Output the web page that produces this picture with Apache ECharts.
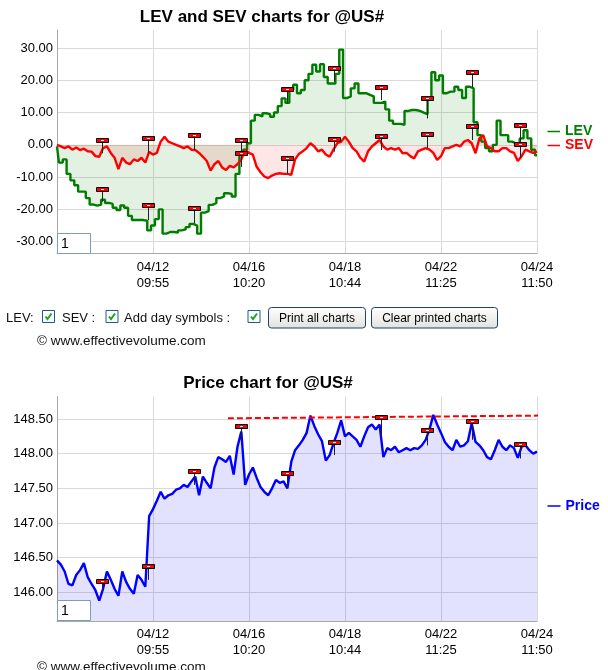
<!DOCTYPE html>
<html><head><meta charset="utf-8">
<script src="https://cdn.jsdelivr.net/npm/echarts@6/dist/echarts.min.js"></script>
<style>html,body{margin:0;padding:0;background:#fff}#c{width:608px;height:670px}</style>
</head><body><div id="c"></div>
<script>
// ---------- data ----------
const xTickBars = [100, 200, 300, 400, 500];
const xTickLabels = ['04/12\n09:55', '04/16\n10:20', '04/18\n10:44', '04/22\n11:25', '04/24\n11:50'];
const sampleBars = 4; // one sample every 4 bars
const evTicks = [-30, -20, -10, 0, 10, 20, 30];
const priceTicks = [146, 146.5, 147, 147.5, 148, 148.5];

const levValues = [
  -0.5, -5.5, -4.5, -9, -11, -12.5, -14.5, -14.5, -16.5, -18.5,
  -18.8, -18.5, -17, -18, -18.3, -19.5, -20.2, -18.8, -19.5, -22,
  -23.3, -23.3, -23.3, -23.5, -26.5, -25, -23, -20, -27.5, -27,
  -27, -27.2, -26.5, -26.2, -25.5, -24.5, -25, -27.5, -21, -20.5,
  -18.6, -18, -16.5, -16, -15, -15.2, -16, -9, -3, -1.5,
  0.5, 7.5, 9.3, 8.8, 9.8, 9.5, 8.7, 10, 12, 14.4,
  13, 17, 18.6, 16, 17, 20, 22, 24.8, 22.7, 25,
  21, 19, 19, 22, 29.5, 14.5, 15, 17.5, 19, 16,
  16, 15.5, 15, 13, 13, 13.4, 11, 7.5, 6.5, 6.5,
  6.2, 10.5, 10.8, 10.8, 10.5, 10, 9.5, 14, 22.5, 20,
  21.5, 16, 16.5, 16.5, 18, 17, 14.5, 18, 17.5, 7,
  3, 1, -1, -2, 0, 7.5, 3, 3, 1, 0.5,
  0.5, 2, 4.5, 2, -1.5, -3.2
];
const sevValues = [
  0, -0.5, -1, -0.5, -1.5, -0.8, -1.6, -1.2, -2, -2.1,
  -3.5, -3.7, -1, -0.5, -2.5, -4, -7.5, -4, -5.5, -6,
  -4.5, -5, -4, -5.5, -2.2, -3, -2.5, 1, 2.5, 1,
  0.5, 0, -0.5, -1, -0.5, -1.5, -1.6, -2.5, -3.7, -5,
  -8, -6, -5, -7, -7.8, -6.5, -7, -6, -4.5, -1.6,
  -2.5, -3, -6.8, -8.5, -9.8, -10.3, -9.5, -9, -8.8, -9,
  -9, -9.3, -4.5, -2.8, -2, -1, 0.5, -0.5, -2, -1.5,
  -3, -3.7, -1.5, 0.5, 1, 2.5, 1, -1, -2, -4,
  -5.2, -2, -0.5, 0.5, 1.5, -0.5, -1.5, -1, -1.5, -1,
  -2.6, -2.5, -3.5, -4.2, -2, -1.5, -1, -1.5, -2.5, -4.7,
  -3.5, -1, -1, -0.5, 0, -0.5, 1, 1.5, 0.5, -2.6,
  2, 3, -0.5, -1, -2, -2, -1, -1, -2, -2.5,
  -5, -3.5, -1.5, -2, -2.5, -2.1
];
const priceValues = [
  146.46, 146.40, 146.30, 146.12, 146.10, 146.25, 146.32, 146.42, 146.22, 146.12,
  146.03, 145.88, 146.05, 146.30, 146.18, 146.05, 145.95, 146.30, 146.15, 146.05,
  145.98, 146.25, 146.18, 146.08, 147.10, 147.20, 147.32, 147.45, 147.35, 147.40,
  147.42, 147.48, 147.50, 147.55, 147.52, 147.60, 147.67, 147.40, 147.67, 147.58,
  147.50, 147.80, 147.95, 147.92, 147.88, 147.97, 147.70, 148.10, 148.32, 147.55,
  147.70, 147.80, 147.65, 147.52, 147.45, 147.40, 147.50, 147.62, 147.58, 147.60,
  147.50, 147.88, 148.05, 148.12, 148.20, 148.30, 148.55, 148.40, 148.28, 148.18,
  147.90, 147.98, 148.15, 148.30, 148.48, 148.25, 148.30, 148.25, 148.20, 148.10,
  148.25, 148.38, 148.42, 148.35, 148.42, 147.95, 148.08, 148.05, 148.10, 148.02,
  148.05, 148.08, 148.05, 148.08, 148.07, 148.12, 148.20, 148.35, 148.56, 148.42,
  148.30, 148.17, 148.10, 148.05, 148.20, 148.10, 148.12, 148.18, 148.44, 148.17,
  148.12, 148.05, 147.95, 147.92, 148.05, 148.20, 148.10, 148.05, 148.12, 148.08,
  147.94, 148.10, 148.12, 148.05, 148.00, 148.03
];

// day symbols: bar position, value at stem foot, value at flag
const dayBars = [47, 95, 143, 192, 240, 289, 338, 385, 432, 482];
const levMarkLow  = [-17.6, -23.3, -24.3, -2.6, 12.9, 19.6, 13.9, 8.2, 17.8, -0.3];
const levMarkFlag = [-14.1, -18.9, -20.0, 1.2, 17.0, 23.4, 17.5, 14.2, 22.4, 5.9];
const sevMarkLow  = [-2.6, -2.6, -1.6, -6.8, -8.8, -2.1, -1.6, -1.0, 1.5, -4.0];
const sevMarkFlag = [1.2, 1.8, 2.8, -2.8, -4.5, 1.5, 2.5, 2.9, 5.6, -0.2];
const priceMarkLow  = [146.01, 146.18, 147.55, 148.20, 147.50, 147.98, 148.24, 148.12, 148.20, 147.93];
const priceMarkFlag = [146.15, 146.36, 147.73, 148.38, 147.70, 148.16, 148.51, 148.33, 148.46, 148.13];

const resistanceBars = [178, 507];
const resistanceValues = [148.51, 148.55];

// ---------- chart ----------
const FONT = '"Liberation Sans", Arial, sans-serif';
const chart = echarts.init(document.getElementById('c'), null, {renderer: 'canvas'});

function series(vals) { return vals.map((v, i) => [i * sampleBars, v]); }
function marks(lows, flags) { return dayBars.map((b, i) => [b, lows[i], flags[i]]); }

function renderFlag(params, api) {
  const x = api.value(0);
  const p0 = api.coord([x, api.value(1)]);
  const p1 = api.coord([x, api.value(2)]);
  const cx = Math.round(p0[0]) + 0.5;
  return {
    type: 'group',
    children: [
      {type: 'line', shape: {x1: cx, y1: p0[1], x2: cx, y2: p1[1]}, style: {stroke: '#222', lineWidth: 1}},
      {type: 'rect', shape: {x: cx - 6, y: Math.round(p1[1]) - 2.5, width: 12, height: 4}, style: {fill: '#ff0000', stroke: '#000', lineWidth: 1}},
      {type: 'rect', shape: {x: cx - 1.5, y: Math.round(p1[1]) - 1, width: 3, height: 1}, style: {fill: '#fff'}}
    ]
  };
}

function xAxisCfg(g) {
  return {
    type: 'value', gridIndex: g, min: 0, max: 500, interval: 100,
    axisLine: {onZero: false, lineStyle: {color: '#a8a8a8', width: 1}},
    axisTick: {show: false},
    axisLabel: {
      color: '#000', fontFamily: FONT, fontSize: 13, lineHeight: 15.5, margin: 6,
      formatter: v => { const k = xTickBars.indexOf(v); return k < 0 ? '' : xTickLabels[k]; }
    },
    splitLine: {show: true, lineStyle: {color: '#dadada', width: 1}}
  };
}
function yAxisCfg(g, min, max, ticks) {
  return {
    type: 'value', gridIndex: g, min: min, max: max,
    axisLine: {show: true, lineStyle: {color: '#a8a8a8', width: 1}},
    axisTick: {show: false, customValues: ticks},
    axisLabel: {customValues: ticks, color: '#000', fontFamily: FONT, fontSize: 13, margin: 4,
      formatter: v => Number(v).toFixed(2)},
    splitLine: {show: true, lineStyle: {color: '#dadada', width: 1}}
  };
}

function txt(text, x, y, size, color, bold, align) {
  return {type: 'text', x: x, y: y, z: 100,
    style: {text: text, font: (bold ? 'bold ' : '') + size + 'px ' + FONT, fill: color,
      align: align || 'left', verticalAlign: 'middle', textAlign: align || 'left', textVerticalAlign: 'middle'}};
}
function checkbox(x, y) {
  return [
    {type: 'rect', z: 100, shape: {x: x + 0.5, y: y + 0.5, width: 12, height: 12}, style: {fill: '#fff', stroke: '#1c5a8c', lineWidth: 1}},
    {type: 'polyline', z: 101, shape: {points: [[x + 3.5, y + 6.5], [x + 5.5, y + 9], [x + 9.5, y + 3.5]]}, style: {stroke: '#21a121', lineWidth: 2, fill: null}}
  ];
}
function button(x, y, w, h, label) {
  return [
    {type: 'rect', z: 100, shape: {x: x + 0.5, y: y + 0.5, width: w, height: h, r: 3},
      style: {stroke: '#1f3f6f', lineWidth: 1,
        fill: new echarts.graphic.LinearGradient(0, 0, 0, 1, [{offset: 0, color: '#ffffff'}, {offset: 1, color: '#e2e2dc'}])}},
    txt(label, x + w / 2 + 0.5, y + h / 2 + 1, 12, '#000', false, 'center')
  ];
}
function inputBox(x, y) {
  return [
    {type: 'rect', z: 100, shape: {x: x + 0.5, y: y + 0.5, width: 33, height: 20}, style: {fill: '#fff', stroke: '#7f9db9', lineWidth: 1}},
    txt('1', x + 4, y + 11, 14, '#000', false)
  ];
}

const graphics = [
  txt('LEV and SEV charts for @US#', 262, 17, 17, '#000', true, 'center'),
  txt('Price chart for @US#', 268, 383, 17, '#000', true, 'center'),
  {type: 'line', z: 100, shape: {x1: 547.5, y1: 131.5, x2: 560, y2: 131.5}, style: {stroke: '#008000', lineWidth: 1.5}},
  txt('LEV', 565, 131.5, 14, '#008000', true),
  {type: 'line', z: 100, shape: {x1: 547.5, y1: 145.5, x2: 560, y2: 145.5}, style: {stroke: '#ff0000', lineWidth: 1.5}},
  txt('SEV', 565, 145.5, 14, '#ff0000', true),
  {type: 'line', z: 100, shape: {x1: 547.5, y1: 506, x2: 560.5, y2: 506}, style: {stroke: '#0000ff', lineWidth: 1.5}},
  txt('Price', 565.5, 506, 14, '#0000ff', true),
  txt('LEV:', 6, 318.5, 13, '#111', false),
  ...checkbox(42, 310),
  txt('SEV :', 62, 318.5, 13, '#111', false),
  ...checkbox(105.5, 310),
  txt('Add day symbols :', 124, 318.5, 13, '#111', false),
  ...checkbox(247.5, 310),
  ...button(268, 307, 97, 20.5, 'Print all charts'),
  ...button(371, 307, 126, 20.5, 'Clear printed charts'),
  txt('\u00a9 www.effectivevolume.com', 37, 341, 13.5, '#111', false),
  txt('\u00a9 www.effectivevolume.com', 37, 667, 13.5, '#111', false),
  ...inputBox(57, 233),
  ...inputBox(57, 600)
];

const option = {
  animation: false,
  backgroundColor: '#fff',
  grid: [
    {left: 57, top: 30, width: 480, height: 223.7, outerBoundsMode: 'none', containLabel: false},
    {left: 57, top: 396.7, width: 480, height: 224.3, outerBoundsMode: 'none', containLabel: false}
  ],
  xAxis: [xAxisCfg(0), xAxisCfg(1)],
  yAxis: [yAxisCfg(0, -33.717, 35.576, evTicks), yAxisCfg(1, 145.586, 148.822, priceTicks)],
  series: [
    {name: 'LEV', type: 'line', xAxisIndex: 0, yAxisIndex: 0, data: series(levValues), step: 'middle',
      showSymbol: false, z: 2, lineStyle: {color: '#007d00', width: 2.4},
      areaStyle: {color: 'rgba(0,128,0,0.16)', origin: 'auto'}},
    {name: 'SEV', type: 'line', xAxisIndex: 0, yAxisIndex: 0, data: series(sevValues),
      showSymbol: false, z: 3, lineStyle: {color: '#ff0000', width: 2.4},
      areaStyle: {color: 'rgba(255,0,0,0.14)', origin: 'auto'}},
    {name: 'Price', type: 'line', xAxisIndex: 1, yAxisIndex: 1, data: series(priceValues),
      showSymbol: false, z: 2, lineStyle: {color: '#0000ff', width: 2.4},
      areaStyle: {color: 'rgba(0,0,255,0.165)', origin: 'start'}},
    {name: 'Resistance', type: 'line', xAxisIndex: 1, yAxisIndex: 1,
      data: resistanceBars.map((b, i) => [b, resistanceValues[i]]), showSymbol: false, clip: false, z: 4,
      lineStyle: {color: '#ff0000', width: 2, type: [6, 3]}},
    {name: 'LEV days', type: 'custom', xAxisIndex: 0, yAxisIndex: 0, data: marks(levMarkLow, levMarkFlag),
      renderItem: renderFlag, encode: {x: 0, y: [1, 2]}, clip: false, z: 5},
    {name: 'SEV days', type: 'custom', xAxisIndex: 0, yAxisIndex: 0, data: marks(sevMarkLow, sevMarkFlag),
      renderItem: renderFlag, encode: {x: 0, y: [1, 2]}, clip: false, z: 5},
    {name: 'Price days', type: 'custom', xAxisIndex: 1, yAxisIndex: 1, data: marks(priceMarkLow, priceMarkFlag),
      renderItem: renderFlag, encode: {x: 0, y: [1, 2]}, clip: false, z: 5}
  ],
  graphic: {elements: graphics}
};
chart.setOption(option);
</script>
</body></html>
